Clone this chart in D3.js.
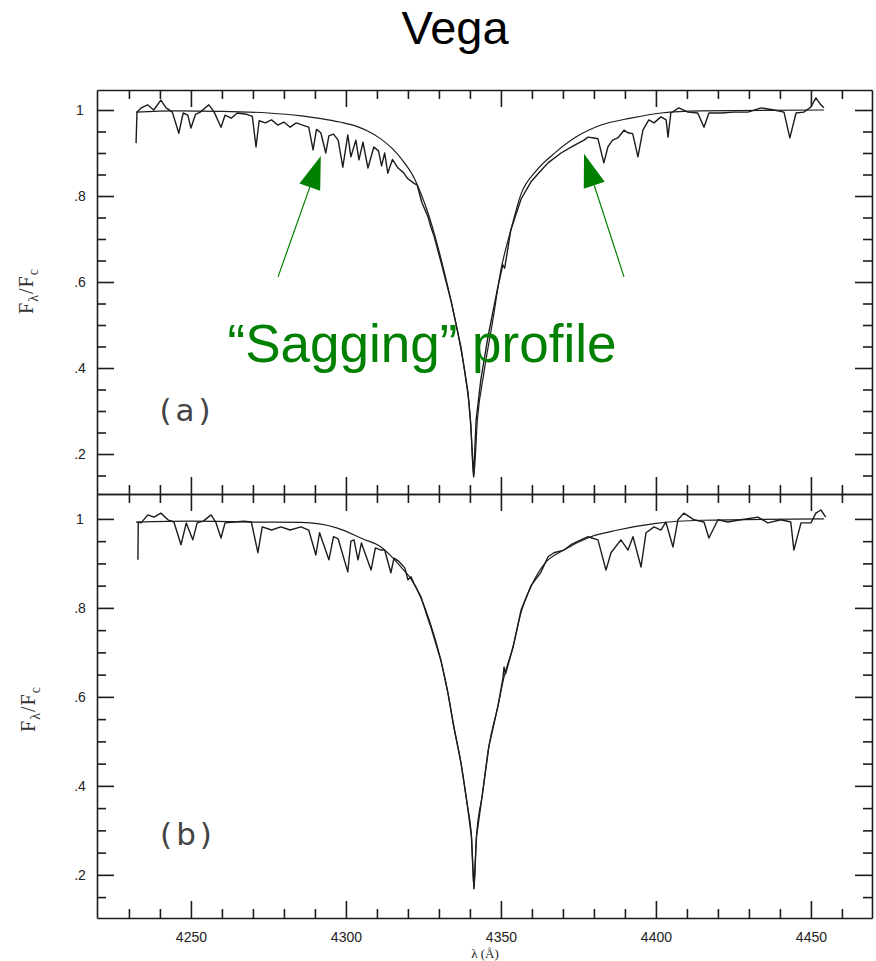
<!DOCTYPE html>
<html>
<head>
<meta charset="utf-8">
<script src="https://cdn.jsdelivr.net/npm/d3@7"></script>
<style>
body { margin: 0; background: #fff; }
svg { display: block; }
</style>
</head>
<body>
<div id="chart"></div>
<script>
// Vega, H-gamma profile: observed spectrum vs model, two panels

// tick values and labels
var xTickValues = [4250, 4300, 4350, 4400, 4450];
var xTickLabels = ["4250", "4300", "4350", "4400", "4450"];
var xMinorTicks = [4230, 4240, 4260, 4270, 4280, 4290, 4310, 4320, 4330, 4340,
                   4360, 4370, 4380, 4390, 4410, 4420, 4430, 4440, 4460];
var yTickValues = [1, 0.8, 0.6, 0.4, 0.2];
var yTickLabels = ["1", ".8", ".6", ".4", ".2"];
var yMinorTicks = [0.15, 0.25, 0.3, 0.35, 0.45, 0.5, 0.55, 0.65, 0.7, 0.75, 0.85, 0.9, 0.95];

// panel (a): [wavelength A, F/Fc]
var observedA = [
  [4232.3,0.923],[4232.6,0.995],[4234.0,1.005],[4236.0,1.012],[4238.0,1.000],[4240.3,1.023],
  [4242.0,1.005],[4244.0,0.995],[4246.1,0.946],[4247.5,0.993],[4249.0,0.988],[4250.0,0.958],
  [4251.5,0.990],[4253.0,0.995],[4255.8,1.012],[4257.5,0.995],[4259.7,0.960],[4261.0,0.988],
  [4263.0,0.981],[4265.0,0.993],[4268.0,0.990],[4269.8,0.985],[4271.0,0.914],[4272.0,0.975],
  [4274.0,0.970],[4276.0,0.977],[4278.0,0.965],[4280.0,0.972],[4282.0,0.960],[4284.0,0.970],
  [4286.0,0.965],[4288.0,0.960],[4289.4,0.907],[4290.5,0.955],[4291.9,0.947],[4293.5,0.900],
  [4294.5,0.940],[4296.0,0.944],[4297.5,0.930],[4299.0,0.867],[4300.6,0.942],[4301.6,0.891],
  [4303.2,0.930],[4304.2,0.884],[4305.5,0.925],[4307.1,0.865],[4309.0,0.914],[4310.5,0.905],
  [4311.5,0.870],[4312.5,0.900],[4313.5,0.853],[4315.0,0.885],[4316.8,0.865],[4318.5,0.855],
  [4320.0,0.840],[4321.9,0.830],[4323.0,0.825],[4324.5,0.785],[4326.5,0.751],[4327.4,0.728],
  [4328.5,0.705],[4330.6,0.648],[4333.9,0.556],[4337.1,0.449],[4339.4,0.342],[4340.3,0.263],
  [4341.2,0.147],[4342.0,0.279],[4343.5,0.372],[4345.8,0.472],[4349.0,0.588],[4350.6,0.640],
  [4351.2,0.632],[4353.2,0.721],[4356.5,0.793],[4359.7,0.833],[4363.0,0.860],[4365.2,0.877],
  [4369.4,0.900],[4373.5,0.917],[4376.8,0.930],[4378.1,0.937],[4380.0,0.935],[4381.3,0.933],
  [4383.2,0.877],[4384.5,0.914],[4386.0,0.930],[4387.7,0.935],[4389.7,0.953],[4391.0,0.947],
  [4392.5,0.945],[4394.2,0.891],[4395.8,0.953],[4397.7,0.977],[4399.4,0.970],[4401.6,0.984],
  [4403.3,0.977],[4403.9,0.937],[4404.8,0.993],[4407.4,1.005],[4410.3,0.995],[4413.5,0.993],
  [4415.5,0.960],[4417.1,0.993],[4421.0,0.993],[4425.2,0.995],[4429.7,0.995],[4433.9,1.005],
  [4438.1,1.000],[4441.3,0.995],[4443.2,0.935],[4445.2,0.993],[4447.7,0.995],[4450.0,1.007],
  [4451.6,1.028],[4453.2,1.012],[4454.2,1.005]
];
var modelA = [
  [4232.3,0.995],[4245.0,0.998],[4260.0,0.997],[4275.0,0.993],[4285.0,0.987],[4292.0,0.980],
  [4298.0,0.972],[4303.0,0.963],[4307.0,0.951],[4311.0,0.934],[4315.0,0.910],[4319.0,0.876],
  [4322.0,0.842],[4324.5,0.800],[4326.5,0.760],[4329.7,0.681],[4332.9,0.588],[4336.1,0.481],
  [4338.7,0.372],[4340.2,0.279],[4341.2,0.147],[4342.4,0.279],[4344.5,0.388],[4347.4,0.512],
  [4350.0,0.628],[4353.2,0.721],[4356.5,0.805],[4361.3,0.858],[4367.7,0.902],[4374.2,0.937],
  [4382.3,0.965],[4391.9,0.981],[4401.6,0.993],[4414.5,0.998],[4454.2,1.000]
];

// panel (b)
var observedB = [
  [4232.9,0.908],[4233.0,0.993],[4233.9,0.991],[4236.1,1.009],[4238.1,1.004],[4240.3,1.013],
  [4242.6,0.998],[4244.5,0.993],[4246.8,0.942],[4248.5,0.991],[4250.6,0.953],[4252.0,0.991],
  [4254.0,0.995],[4256.5,1.009],[4258.0,0.993],[4259.7,0.957],[4261.0,0.991],[4264.0,0.993],
  [4267.0,0.995],[4269.5,0.993],[4271.6,0.924],[4273.0,0.982],[4276.0,0.975],[4279.0,0.982],
  [4282.0,0.975],[4285.5,0.982],[4288.0,0.975],[4290.3,0.919],[4291.5,0.969],[4294.5,0.908],
  [4296.0,0.960],[4297.5,0.955],[4300.6,0.881],[4301.6,0.950],[4302.6,0.953],[4303.9,0.908],
  [4305.0,0.946],[4308.1,0.885],[4309.5,0.935],[4311.3,0.930],[4312.5,0.930],[4314.5,0.879],
  [4315.5,0.912],[4317.0,0.905],[4319.0,0.890],[4320.0,0.863],[4321.0,0.870],[4321.9,0.856],
  [4324.2,0.825],[4326.5,0.775],[4327.4,0.757],[4330.6,0.683],[4332.9,0.609],[4334.8,0.533],
  [4337.1,0.452],[4339.2,0.355],[4340.5,0.285],[4341.3,0.169],[4342.1,0.285],[4344.0,0.380],
  [4346.1,0.488],[4349.0,0.578],[4350.6,0.640],[4351.0,0.667],[4351.5,0.652],[4353.9,0.712],
  [4356.5,0.795],[4359.7,0.850],[4362.9,0.880],[4365.2,0.915],[4367.1,0.924],[4370.3,0.930],
  [4372.6,0.942],[4375.8,0.953],[4378.1,0.960],[4381.3,0.953],[4383.9,0.885],[4385.5,0.924],
  [4388.7,0.953],[4391.0,0.930],[4392.6,0.960],[4395.2,0.892],[4396.8,0.969],[4399.4,0.982],
  [4401.6,0.975],[4403.2,0.993],[4405.5,0.937],[4407.1,0.998],[4409.0,1.013],[4412.3,0.998],
  [4415.5,0.993],[4417.1,0.957],[4420.0,0.998],[4423.2,0.993],[4427.4,0.998],[4432.9,1.004],
  [4436.1,0.991],[4440.3,0.998],[4443.5,0.993],[4444.5,0.930],[4446.8,0.991],[4450.0,0.991],
  [4451.6,1.013],[4453.2,1.020],[4454.8,1.004]
];
var modelB = [
  [4232.3,0.993],[4250.0,0.995],[4270.0,0.993],[4285.5,0.992],[4297.0,0.980],[4305.5,0.955],
  [4311.3,0.937],[4314.5,0.917],[4318.0,0.890],[4321.0,0.865],[4324.2,0.822],[4327.0,0.770],
  [4330.6,0.683],[4332.9,0.609],[4334.8,0.533],[4337.1,0.452],[4339.2,0.355],[4340.5,0.285],
  [4341.3,0.169],[4342.1,0.285],[4344.0,0.380],[4346.1,0.488],[4349.0,0.578],[4351.0,0.645],
  [4353.9,0.712],[4356.5,0.790],[4359.7,0.848],[4363.9,0.898],[4370.3,0.930],[4379.0,0.960],
  [4387.7,0.975],[4400.0,0.990],[4415.0,0.997],[4454.2,1.000]
];

// "sagging" arrows, anchored in panel (a) data units: [tail, tip]
var sagArrows = [
  [[4278.1, 0.612], [4291.9, 0.893]],
  [[4389.7, 0.612], [4376.8, 0.898]]
];

var svgWidth = 876, svgHeight = 961;
var left = 97, right = 872;
var ink = "#1c1c1c";
var green = "#008000";

var svg = d3.select("#chart").append("svg")
    .attr("width", svgWidth)
    .attr("height", svgHeight);

var x = d3.scaleLinear().domain([4219.7, 4469.7]).range([left, right]);
var yA = d3.scaleLinear().domain([0.107, 1.0465]).range([494, 90]);
var yB = d3.scaleLinear().domain([0.103, 1.056]).range([918, 494]);

function styleAxis(g) {
    g.selectAll(".domain, .tick line").attr("stroke", ink).attr("stroke-width", 1.6);
}

function drawFrame(y, showXLabels) {
    var top = y.range()[1], bottom = y.range()[0];
    var g = svg.append("g");

    // bottom axis, ticks pointing up
    var bot = g.append("g").attr("transform", "translate(0," + bottom + ")")
        .call(d3.axisBottom(x).tickValues(xTickValues).tickSizeInner(-17).tickSizeOuter(0)
            .tickPadding(14)
            .tickFormat(function(d, i) { return showXLabels ? xTickLabels[i] : ""; }));
    styleAxis(bot);
    bot.selectAll("text")
        .style("font-family", "Liberation Sans, Arial, sans-serif")
        .style("font-size", "14px")
        .attr("fill", "#222");
    var botMinor = g.append("g").attr("transform", "translate(0," + bottom + ")")
        .call(d3.axisBottom(x).tickValues(xMinorTicks).tickSize(-9).tickFormat(""));
    botMinor.select(".domain").remove();
    styleAxis(botMinor);

    // top axis, ticks pointing down
    var topAx = g.append("g").attr("transform", "translate(0," + top + ")")
        .call(d3.axisTop(x).tickValues(xTickValues).tickSizeInner(-17).tickSizeOuter(0).tickFormat(""));
    styleAxis(topAx);
    var topMinor = g.append("g").attr("transform", "translate(0," + top + ")")
        .call(d3.axisTop(x).tickValues(xMinorTicks).tickSize(-9).tickFormat(""));
    topMinor.select(".domain").remove();
    styleAxis(topMinor);

    // left axis, ticks pointing right
    var leftAx = g.append("g").attr("transform", "translate(" + left + ",0)")
        .call(d3.axisLeft(y).tickValues(yTickValues).tickSizeInner(-17).tickSizeOuter(0)
            .tickFormat(function(d, i) { return yTickLabels[i]; }));
    styleAxis(leftAx);
    leftAx.selectAll("text")
        .attr("x", -17)
        .attr("text-anchor", "middle")
        .style("font-family", "Liberation Sans, Arial, sans-serif")
        .style("font-size", "14px")
        .attr("fill", "#222");
    var leftMinor = g.append("g").attr("transform", "translate(" + left + ",0)")
        .call(d3.axisLeft(y).tickValues(yMinorTicks).tickSize(-9).tickFormat(""));
    leftMinor.select(".domain").remove();
    styleAxis(leftMinor);

    // right axis, ticks pointing left
    var rightAx = g.append("g").attr("transform", "translate(" + right + ",0)")
        .call(d3.axisRight(y).tickValues(yTickValues).tickSizeInner(-17).tickSizeOuter(0).tickFormat(""));
    styleAxis(rightAx);
    var rightMinor = g.append("g").attr("transform", "translate(" + right + ",0)")
        .call(d3.axisRight(y).tickValues(yMinorTicks).tickSize(-9).tickFormat(""));
    rightMinor.select(".domain").remove();
    styleAxis(rightMinor);
}

function drawSpectra(y, observed, model) {
    var obsLine = d3.line().x(function(d) { return x(d[0]); }).y(function(d) { return y(d[1]); });
    var modLine = d3.line().curve(d3.curveMonotoneX)
        .x(function(d) { return x(d[0]); }).y(function(d) { return y(d[1]); });

    svg.append("path").datum(model)
        .attr("d", modLine)
        .attr("fill", "none")
        .attr("stroke", ink)
        .attr("stroke-width", 1.2);

    svg.append("path").datum(observed)
        .attr("d", obsLine)
        .attr("fill", "none")
        .attr("stroke", ink)
        .attr("stroke-width", 1.4)
        .attr("stroke-linejoin", "round");
}

function yTitle(cx, cy) {
    var t = svg.append("text")
        .attr("transform", "translate(" + cx + "," + cy + ") rotate(-90)")
        .attr("text-anchor", "middle")
        .style("font-family", "Liberation Serif, serif")
        .style("font-size", "20px")
        .style("letter-spacing", "1px")
        .attr("fill", "#333");
    t.append("tspan").text("F");
    t.append("tspan").attr("dy", 5).style("font-size", "14px").text("λ");
    t.append("tspan").attr("dy", -5).text("/F");
    t.append("tspan").attr("dy", 5).style("font-size", "14px").text("c");
}

drawFrame(yA, false);
drawFrame(yB, true);
drawSpectra(yA, observedA, modelA);
drawSpectra(yB, observedB, modelB);

yTitle(33, 291);
yTitle(35, 709);

// panel letters
svg.append("text").attr("x", 187).attr("y", 421)
    .attr("text-anchor", "middle")
    .style("font-family", "DejaVu Sans, sans-serif")
    .style("font-size", "31px")
    .style("letter-spacing", "4px")
    .attr("fill", "#444")
    .text("(a)");
svg.append("text").attr("x", 188).attr("y", 845)
    .attr("text-anchor", "middle")
    .style("font-family", "DejaVu Sans, sans-serif")
    .style("font-size", "31px")
    .style("letter-spacing", "4px")
    .attr("fill", "#444")
    .text("(b)");

// x axis title
svg.append("text").attr("x", 485).attr("y", 958)
    .attr("text-anchor", "middle")
    .style("font-family", "Liberation Serif, serif")
    .style("font-size", "13px")
    .attr("fill", "#222")
    .text("λ (Å)");

// title
svg.append("text").attr("x", 455).attr("y", 44)
    .attr("text-anchor", "middle")
    .style("font-family", "Liberation Sans, Arial, sans-serif")
    .style("font-size", "47px")
    .attr("fill", "#000")
    .text("Vega");

// green arrows
sagArrows.forEach(function(a) {
    var tx = x(a[0][0]), ty = yA(a[0][1]);
    var hx = x(a[1][0]), hy = yA(a[1][1]);
    var dx = hx - tx, dy = hy - ty, len = Math.sqrt(dx * dx + dy * dy);
    var ux = dx / len, uy = dy / len;
    var headLen = 33, halfW = 11;
    var bx = hx - ux * headLen, by = hy - uy * headLen;
    svg.append("line")
        .attr("x1", tx).attr("y1", ty).attr("x2", bx).attr("y2", by)
        .attr("stroke", green).attr("stroke-width", 1.2);
    svg.append("path")
        .attr("d", "M" + hx + "," + hy +
            "L" + (bx - uy * halfW) + "," + (by + ux * halfW) +
            "L" + (bx + uy * halfW) + "," + (by - ux * halfW) + "Z")
        .attr("fill", green);
});

svg.append("text").attr("x", 422).attr("y", 362)
    .attr("text-anchor", "middle")
    .style("font-family", "Liberation Sans, Arial, sans-serif")
    .style("font-size", "53px")
    .attr("fill", green)
    .text("\u201CSagging\u201D profile");
</script>
</body>
</html>
